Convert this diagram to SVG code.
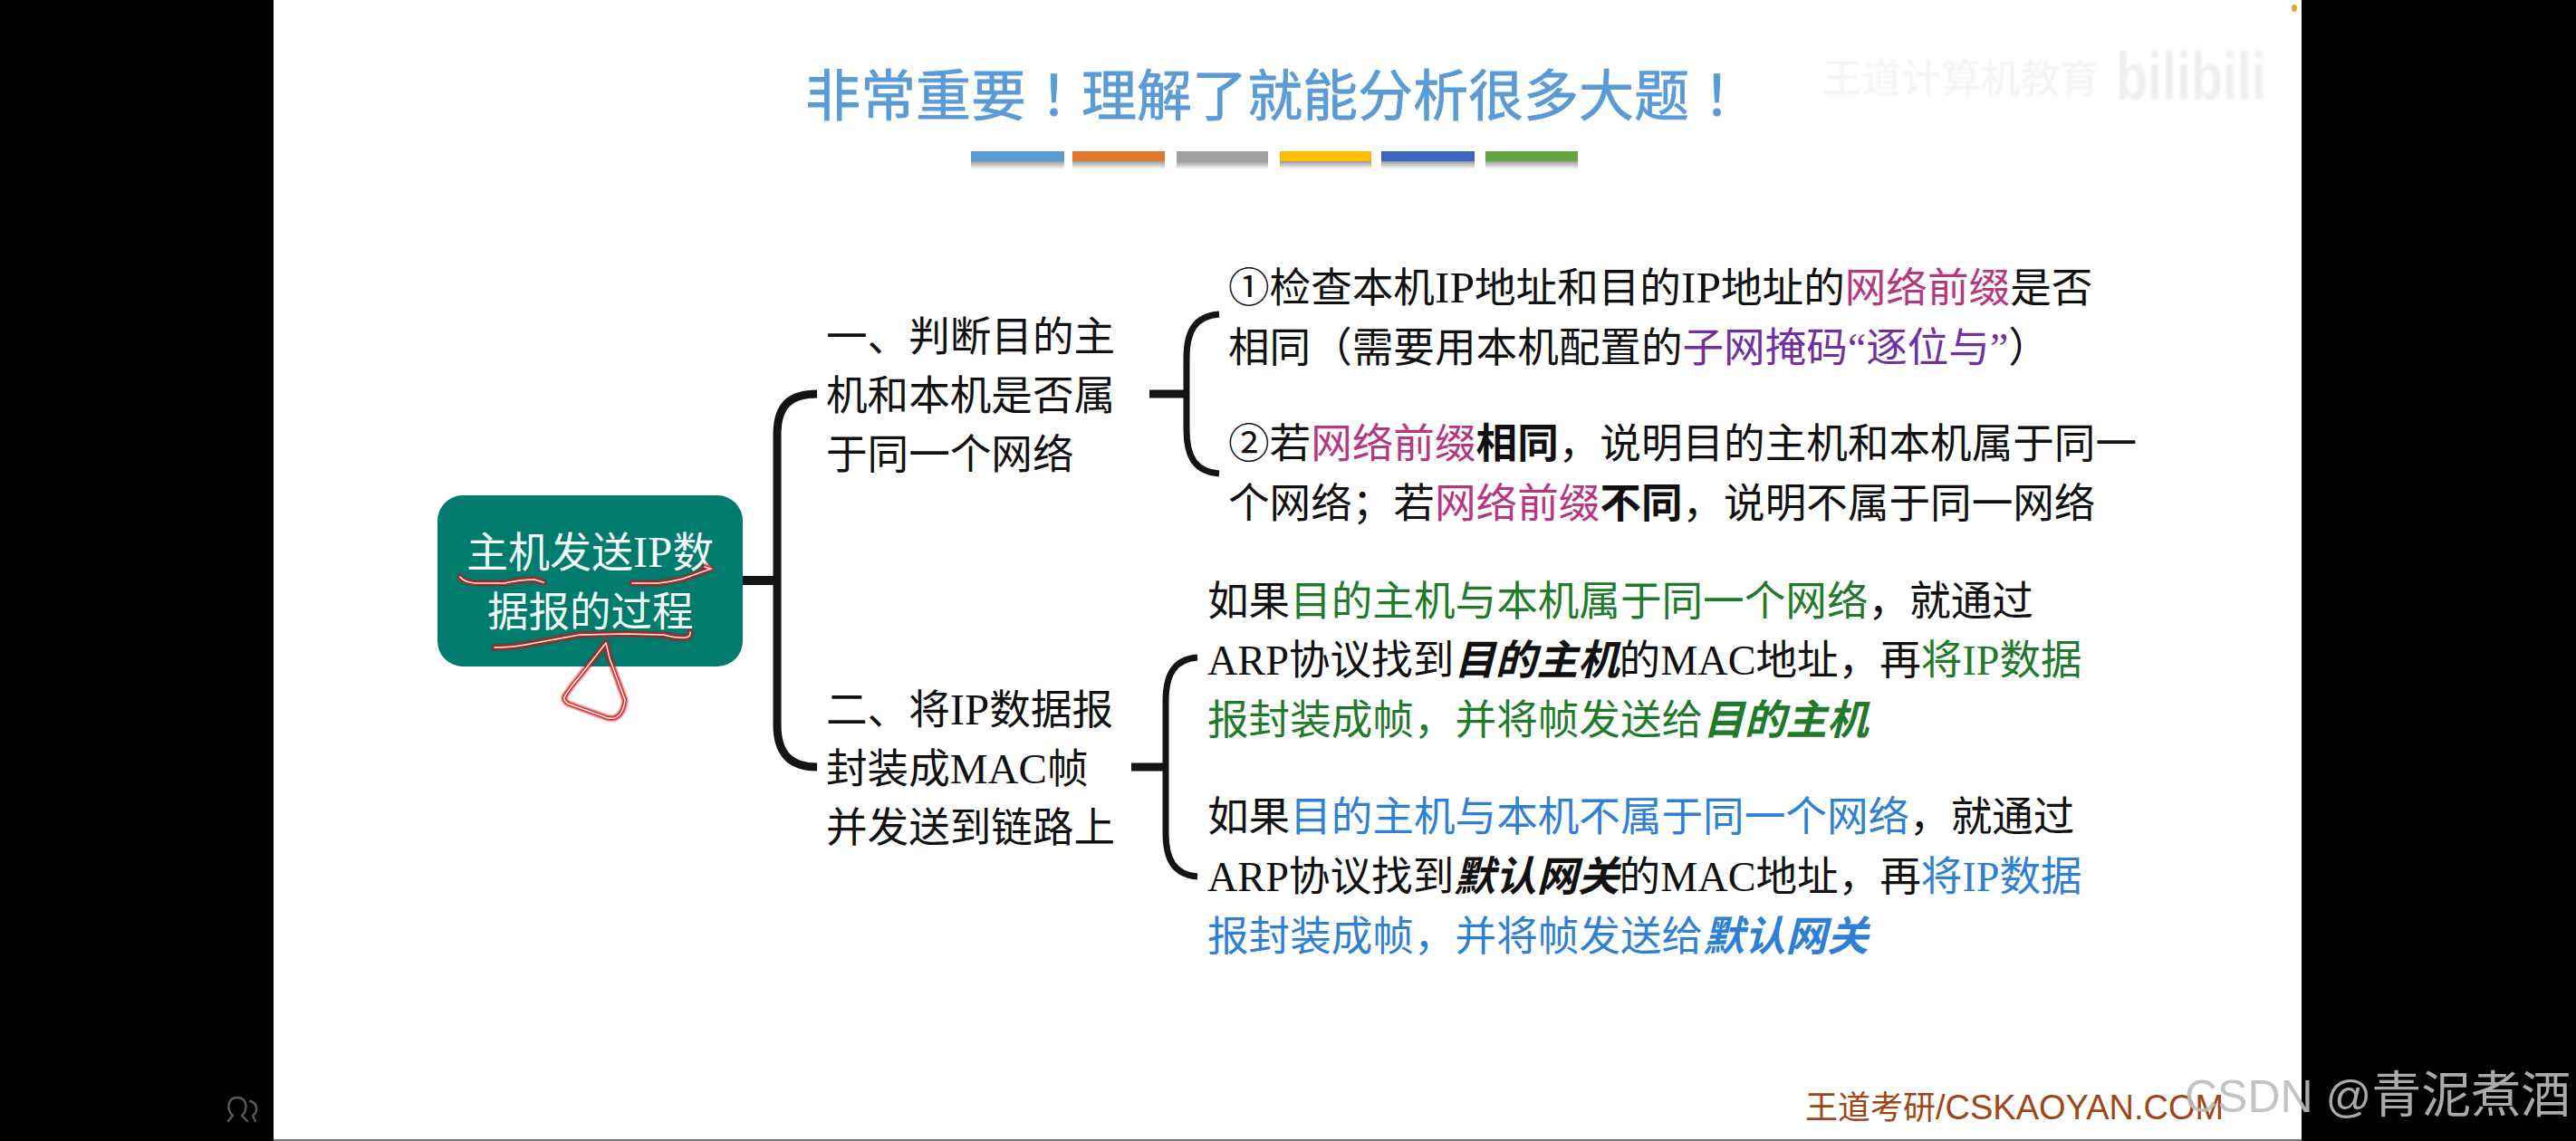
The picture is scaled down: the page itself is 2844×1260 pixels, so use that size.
<svg xmlns="http://www.w3.org/2000/svg" width="2844" height="1260" viewBox="0 0 2844 1260">
<style>
text{font-family:"Liberation Serif","Noto Sans CJK SC",sans-serif;font-size:45.6px;fill:#111}
.sans{font-family:"Liberation Sans","Noto Sans CJK SC",sans-serif}
.tc{font-family:"Noto Sans CJK TC",sans-serif}
.p{fill:#b5387f}.v{fill:#7030a0}.g{fill:#1f7a2b}.b{fill:#2f80d2}
.bi{font-weight:700;font-style:italic}.k{font-weight:700}
.l{font-size:47px}.m{font-size:46.2px}.n{font-size:49.5px}
.c{fill:none;stroke:#141414;stroke-linecap:butt}
.rg{fill:none;stroke:#d80808;stroke-width:5.5;stroke-linejoin:round;stroke-linecap:round}
.rw{fill:none;stroke:#fff;stroke-width:1.5;stroke-linejoin:round;stroke-linecap:round}
</style>
<defs>
<linearGradient id="sh" x1="0" y1="0" x2="0" y2="1"><stop offset="0" stop-color="#999"/><stop offset="1" stop-color="#fff"/></linearGradient>
<filter id="gl" x="-20%" y="-60%" width="140%" height="220%"><feGaussianBlur stdDeviation="1"/></filter>
<filter id="wm" x="-5%" y="-20%" width="110%" height="140%"><feGaussianBlur stdDeviation="1.2"/></filter>
<path id="a1" d="M508,637 Q512,643 525,644 L557,644 Q575,640 590,640 L600,643"/>
<path id="a2" d="M698,644 L727,644 Q750,641 760,637 L785,628 L778,626"/>
<path id="a3" d="M546,715 Q565,715 580,712 L640,701 L690,700 L733,701 Q748,705 757,704 Q763,703 762,698"/>
<path id="a4" d="M669,710 L673,727 L690,773 Q688,790 678,793 Q672,794 666,791 L627,777 Q622,773 623,770 Q630,758 640,747 Z"/>
</defs>
<rect width="2844" height="1260" fill="#000"/>
<rect x="302" y="0" width="2239" height="1258" fill="#fff"/>
<rect x="302" y="1258" width="2239" height="2" fill="#777"/>
<ellipse cx="2533" cy="9" rx="3" ry="4" fill="#f0a030"/>

<g id="watermark" filter="url(#wm)">
<text x="2012" y="102" style="font-size:43.7px;fill:#f3f3f3" class="sans">王道计算机教育</text>
<text x="2336" y="110" style="font-size:74px;fill:#efefef;font-weight:700" class="sans" textLength="166" lengthAdjust="spacingAndGlyphs">bilibili</text>
</g>

<g id="title">
<text x="889" y="128" style="font-size:61px;fill:#5b9bd5;stroke:#5b9bd5;stroke-width:.8">非常重要<tspan class="tc">！</tspan>理解了就能分析很多大题<tspan class="tc">！</tspan></text>
</g>
<g id="title-bars">
<rect x="1072" y="178" width="103" height="9" fill="url(#sh)"/><rect x="1184" y="178" width="102" height="9" fill="url(#sh)"/><rect x="1299" y="178" width="101" height="9" fill="url(#sh)"/><rect x="1413" y="178" width="101" height="9" fill="url(#sh)"/><rect x="1525" y="178" width="103" height="9" fill="url(#sh)"/><rect x="1640" y="178" width="102" height="9" fill="url(#sh)"/>
<rect x="1072" y="167" width="103" height="11" fill="#5b9bd5"/>
<rect x="1184" y="167" width="102" height="11" fill="#e5762d"/>
<rect x="1299" y="167" width="101" height="11" fill="#a0a0a0"/>
<rect x="1413" y="167" width="101" height="11" fill="#ffbd00"/>
<rect x="1525" y="167" width="103" height="11" fill="#3f66bd"/>
<rect x="1640" y="167" width="102" height="11" fill="#63a53f"/>
</g>

<g id="connectors">
<path class="c" stroke-width="10" d="M820,641 H858"/>
<path class="c" stroke-width="9" d="M902,435 C875,435 858,445 858,480 V800 C858,835 875,847 902,847"/>
<path class="c" stroke-width="9" d="M1269,435 H1310"/>
<path class="c" stroke-width="7" d="M1346,347 C1320,349 1310,365 1310,395 V475 C1310,505 1320,521 1346,523"/>
<path class="c" stroke-width="9" d="M1249,847 H1287"/>
<path class="c" stroke-width="7" d="M1322,726 C1297,728 1287,744 1287,774 V920 C1287,950 1297,966 1322,968"/>
</g>

<g id="node-root">
<rect x="483" y="547" width="337" height="189" rx="28" fill="#007b6e"/>
<text x="515" y="626" style="fill:#f2fbf8;font-size:46px">主机发送<tspan style="font-size:49px">IP</tspan>数</text>
<text x="538" y="692" style="fill:#f2fbf8;font-size:45.5px">据报的过程</text>
</g>

<g id="node-step1">
<text x="912" y="388">一、判断目的主</text>
<text x="912" y="453">机和本机是否属</text>
<text x="912" y="518">于同一个网络</text>
</g>
<g id="node-step2">
<text x="912" y="800">二、将<tspan style="font-size:49px">IP</tspan>数据报</text>
<text x="912" y="865">封装成<tspan class="l">MAC</tspan>帧</text>
<text x="912" y="930">并发送到链路上</text>
</g>

<g id="node-step1a">
<text x="1356" y="334">①检查本机<tspan class="n">IP</tspan>地址和目的<tspan class="n">IP</tspan>地址的<tspan class="p">网络前缀</tspan>是否</text>
<text x="1356" y="400">相同（需要用本机配置的<tspan class="v">子网掩码“逐位与”</tspan>）</text>
</g>
<g id="node-step1b">
<text x="1356" y="506">②若<tspan class="p">网络前缀</tspan><tspan class="k">相同</tspan>，说明目的主机和本机属于同一</text>
<text x="1356" y="572">个网络；若<tspan class="p">网络前缀</tspan><tspan class="k">不同</tspan>，说明不属于同一网络</text>
</g>
<g id="node-step2a">
<text x="1333" y="680">如果<tspan class="g">目的主机与本机属于同一个网络</tspan>，就通过</text>
<text x="1333" y="745"><tspan class="m">ARP</tspan>协议找到<tspan class="bi">目的主机</tspan>的<tspan class="m">MAC</tspan>地址，再<tspan class="g">将<tspan class="m">IP</tspan>数据</tspan></text>
<text x="1333" y="811" class="g">报封装成帧，并将帧发送给<tspan class="g bi">目的主机</tspan></text>
</g>
<g id="node-step2b">
<text x="1333" y="918">如果<tspan class="b">目的主机与本机不属于同一个网络</tspan>，就通过</text>
<text x="1333" y="984"><tspan class="m">ARP</tspan>协议找到<tspan class="bi">默认网关</tspan>的<tspan class="m">MAC</tspan>地址，再<tspan class="b">将<tspan class="m">IP</tspan>数据</tspan></text>
<text x="1333" y="1050" class="b">报封装成帧，并将帧发送给<tspan class="b bi">默认网关</tspan></text>
</g>

<g id="annotations">
<g filter="url(#gl)"><use href="#a1" class="rg"/><use href="#a2" class="rg"/><use href="#a3" class="rg"/><use href="#a4" class="rg"/></g>
<use href="#a1" class="rw"/><use href="#a2" class="rw"/><use href="#a3" class="rw"/><use href="#a4" class="rw"/>
</g>

<g id="footer">
<text x="1993" y="1236" class="sans" style="font-size:36px;fill:#a04515">王道考研<tspan style="font-size:38px">/CSKAOYAN.COM</tspan></text>
<text x="2412" y="1228" class="sans" style="font-size:50px;fill:#bdbdbd;opacity:.9">CSDN @<tspan style="font-size:55px">青泥煮酒</tspan></text>
</g>
<g id="people-icon" fill="none" stroke="#5a5a5a" stroke-width="2.4" stroke-linecap="round" stroke-linejoin="round">
<path d="M252,1238 L257,1232 C250,1226 251,1212 262,1212 C273,1212 274,1226 267,1232 L273,1238"/>
<path d="M276,1216 C285,1218 285,1228 279,1232 L282,1238"/>
</g>
</svg>
